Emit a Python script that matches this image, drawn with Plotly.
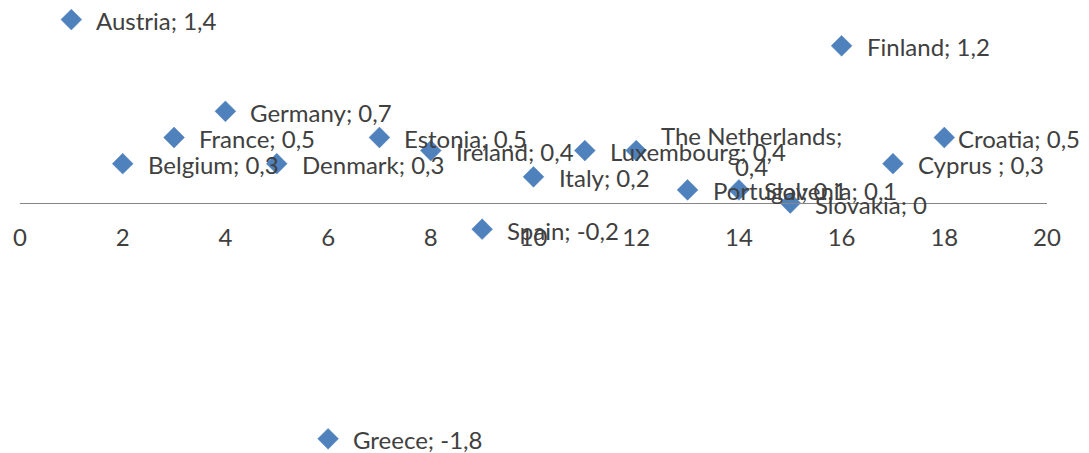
import plotly.graph_objects as go

countries = ["Austria", "Belgium", "France", "Germany", "Denmark", "Greece", "Estonia",
             "Ireland", "Spain", "Italy", "Luxembourg", "The Netherlands", "Portugal",
             "Slovenia", "Slovakia", "Finland", "Cyprus ", "Croatia"]
x_vals = [1, 2, 3, 4, 5, 6, 7, 8, 9, 10, 11, 12, 13, 14, 15, 16, 17, 18]
y_vals = [1.4, 0.3, 0.5, 0.7, 0.3, -1.8, 0.5, 0.4, -0.2, 0.2, 0.4, 0.4, 0.1, 0.1, 0.0, 1.2, 0.3, 0.5]
x_ticks = [0, 2, 4, 6, 8, 10, 12, 14, 16, 18, 20]


def fmt(v):
    s = ("%g" % v).replace(".", ",")
    return s


W, H = 1089, 453
# page body has an 8px margin; compensate so the plot lands where the reference has it
PX_PER_UNIT = 131.0
ZERO_ROW = 203 - 8
YMAX = ZERO_ROW / PX_PER_UNIT
YMIN = -(H - ZERO_ROW) / PX_PER_UNIT
FONT = "Lato"
FS = 24
TXT = "#404040"

fig = go.Figure()
fig.add_trace(go.Scatter(
    x=x_vals, y=y_vals, mode="markers",
    marker=dict(symbol="diamond", size=16, color="#4F81BD",
                line=dict(color="#4F81BD", width=0.5)),
    cliponaxis=False, hoverinfo="skip", showlegend=False))

# label placement styling (pixel shifts)
special_x = {"Croatia": 13}
annotations = []
for name, xv, yv in zip(countries, x_vals, y_vals):
    label = f"{name}; {fmt(yv)}"
    xs = special_x.get(name.strip(), 24)
    if name == "The Netherlands":
        label = f"{name};<br>{fmt(yv)}"
        annotations.append(dict(x=xv, y=yv, text=label, showarrow=False,
                                xanchor="left", yanchor="middle", xshift=xs, yshift=0,
                                align="center", borderpad=0,
                                font=dict(family=FONT, size=FS, color=TXT)))
        continue
    annotations.append(dict(x=xv, y=yv, text=label, showarrow=False,
                            xanchor="left", yanchor="middle", xshift=xs, yshift=-1,
                            borderpad=0,
                            font=dict(family=FONT, size=FS, color=TXT)))

zero_pos = (0 - YMIN) / (YMAX - YMIN)

fig.update_layout(
    width=W, height=H,
    margin=dict(l=12, r=50, t=0, b=0, autoexpand=False),
    paper_bgcolor="white", plot_bgcolor="white",
    annotations=annotations,
    xaxis=dict(range=[0, 20], tickvals=x_ticks, ticktext=[str(t) for t in x_ticks],
               showgrid=False, zeroline=False, showline=True, linecolor="#868686",
               linewidth=1, ticks="", anchor="free", position=zero_pos,
               ticklabelstandoff=13,
               tickfont=dict(family=FONT, size=FS, color=TXT)),
    yaxis=dict(range=[YMIN, YMAX], visible=False, showgrid=False, zeroline=False),
)

fig.write_html("out.html")
